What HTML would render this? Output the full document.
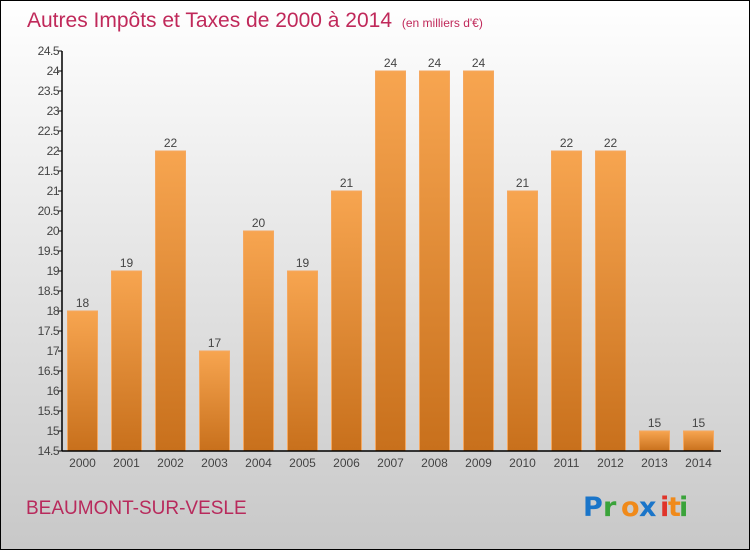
<!DOCTYPE html>
<html><head><meta charset="utf-8"><style>
html,body{margin:0;padding:0}
body{width:750px;height:550px;overflow:hidden;font-family:"Liberation Sans","DejaVu Sans",sans-serif}
</style></head><body>
<svg id="chart" width="750" height="550" xmlns="http://www.w3.org/2000/svg">
<defs>
<linearGradient id="bg" x1="0" y1="0" x2="0" y2="1"><stop offset="0" stop-color="#ffffff"/><stop offset="1" stop-color="#c8c8c8"/></linearGradient>
<linearGradient id="bar" x1="0" y1="0" x2="0" y2="1"><stop offset="0" stop-color="#f7a550"/><stop offset="1" stop-color="#c8701c"/></linearGradient>
</defs>
<rect x="0.5" y="0.5" width="749" height="549" fill="url(#bg)" stroke="#000" stroke-width="1"/>
<text x="27" y="27" font-size="21" fill="#c0295a" font-family="Liberation Sans, sans-serif">Autres Impôts et Taxes de 2000 à 2014 <tspan font-size="12" dx="4">(en milliers d'€)</tspan></text>
<g id="grid"></g>
<g id="bars"></g>
<g id="axes"></g>
<text x="26" y="514" font-size="19" fill="#b82a5c">BEAUMONT-SUR-VESLE</text>
<g font-size="27" font-weight="bold" font-family="DejaVu Sans, sans-serif">
<text x="583" y="516" fill="#1a75c9">P</text><text x="603" y="516" fill="#3aa33a">r</text><text x="621" y="516" fill="#f08a1a">o</text><text x="639" y="516" fill="#1a75c9">x</text><text x="660" y="516" fill="#e0342a">i</text><text x="668" y="516" fill="#f08a1a">t</text><text x="679" y="516" fill="#3aa33a">i</text>
</g>
</svg>
<script>
const categories=["2000","2001","2002","2003","2004","2005","2006","2007","2008","2009","2010","2011","2012","2013","2014"];
const values=[18,19,22,17,20,19,21,24,24,24,21,22,22,15,15];
const yTicks=[14.5,15,15.5,16,16.5,17,17.5,18,18.5,19,19.5,20,20.5,21,21.5,22,22.5,23,23.5,24,24.5];
const NS="http://www.w3.org/2000/svg";
const yMin=14.5,yMax=24.5,yTop=51,yBot=451,xLeft=62,xRight=721;
function y(v){return yBot-(v-yMin)/(yMax-yMin)*(yBot-yTop);}
function x(i){return 82.5+i*44;}
function mk(t,a,p){const e=document.createElementNS(NS,t);for(const k in a)e.setAttribute(k,a[k]);p.appendChild(e);return e;}
const bars=document.getElementById('bars'),axes=document.getElementById('axes');
values.forEach((v,i)=>{
 const r=mk('rect',{x:x(i)-15,y:y(v),width:30,height:yBot-y(v),fill:'url(#bar)',stroke:'#f5a860','stroke-width':1},bars);
 
 
 const t=mk('text',{x:x(i),y:y(v)-4,'text-anchor':'middle','font-size':12,fill:'#444'},bars);
 t.textContent=v;
 
 
 const c=mk('text',{x:x(i),y:467,'text-anchor':'middle','font-size':12,fill:'#444'},axes);
 c.textContent=categories[i];
 
 
});
yTicks.forEach(v=>{
 mk('line',{x1:xLeft-4,x2:xLeft,y1:y(v),y2:y(v),stroke:'#000','stroke-width':1},axes);
 const t=mk('text',{x:xLeft-3,y:y(v)+4,'text-anchor':'end','font-size':12,fill:'#444','letter-spacing':'-0.5'},axes);
 t.textContent=v;
 
 
});
const ya=mk('line',{x1:xLeft,x2:xLeft,y1:yTop,y2:yBot,stroke:'#000','stroke-width':1.5},axes);


const xa=mk('line',{x1:xLeft,x2:xRight,y1:yBot,y2:yBot,stroke:'#000','stroke-width':1.5},axes);


</script>
</body></html>
